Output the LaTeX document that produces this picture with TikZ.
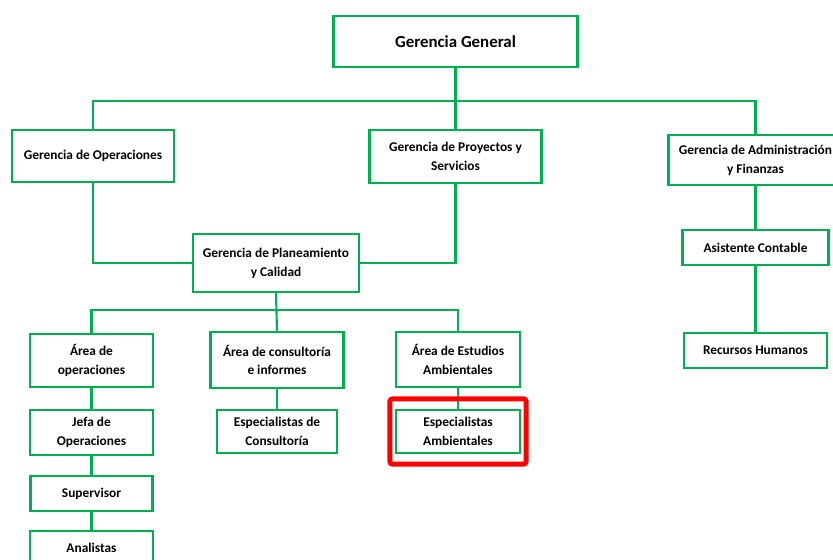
\documentclass[tikz,border=0pt]{standalone}
\usepackage{fontspec}
\setmainfont{Carlito}
\usetikzlibrary{fit}
\definecolor{orggreen}{HTML}{00B050}
\definecolor{markred}{HTML}{FF0000}
\begin{document}
\begin{tikzpicture}[x=0.03cm,y=-0.03cm,
  puesto/.style={draw=orggreen,line width=1.8pt,align=center,inner sep=0pt,
    font=\fontsize{11.4}{16}\selectfont\bfseries},
  linea/.style={draw=orggreen,line width=1.8pt}]
\useasboundingbox (0,0) rectangle (833,560);
\clip (0,0) rectangle (833,560);
% nivel 1
\node[puesto,minimum width=7.32cm,minimum height=1.53cm,font=\fontsize{14.4}{16}\selectfont\bfseries] (GG) at (455.5,41.5) {Gerencia General};
% nivel 2
\node[puesto,minimum width=4.86cm,minimum height=1.56cm] (GO) at (93,156) {Gerencia de Operaciones};
\node[puesto,minimum width=5.16cm,minimum height=1.59cm] (GPS) at (455.5,156.5) {Gerencia de Proyectos y\\Servicios};
\node[puesto,minimum width=5.22cm,minimum height=1.5cm] (GAF) at (755.5,160) {Gerencia de Administración\\y Finanzas};
\node[puesto,minimum width=4.98cm,minimum height=1.74cm] (GPC) at (276,263) {Gerencia de Planeamiento\\y Calidad};
% areas
\node[puesto,minimum width=3.69cm,minimum height=1.59cm] (AO) at (91.5,360.5) {Área de\\operaciones};
\node[puesto,minimum width=3.99cm,minimum height=1.68cm] (AC) at (277,360) {Área de consultoría\\e informes};
\node[puesto,minimum width=3.72cm,minimum height=1.65cm] (AE) at (458,359.5) {Área de Estudios\\Ambientales};
\node[puesto,minimum width=3.69cm,minimum height=1.35cm] (JO) at (91.5,432.5) {Jefa de\\Operaciones};
\node[puesto,minimum width=3.6cm,minimum height=1.29cm] (EC) at (277,431.5) {Especialistas de\\Consultoría};
\node[puesto,minimum width=3.72cm,minimum height=1.29cm] (EA) at (458,431.5) {Especialistas\\Ambientales};
\node[puesto,minimum width=3.66cm,minimum height=1.05cm] (SU) at (91.5,493.5) {Supervisor};
\node[puesto,minimum width=3.69cm,minimum height=0.99cm] (AN) at (91.5,547.5) {Analistas};
\node[puesto,minimum width=4.38cm,minimum height=1.05cm] (ACT) at (755.5,247.5) {Asistente Contable};
\node[puesto,minimum width=4.29cm,minimum height=1.05cm] (RH) at (755.5,350.5) {Recursos Humanos};
% conectores
\coordinate (b1) at (455.5,101);
\coordinate (b2) at (276,310);
\draw[linea] (GG.south) -- (GPS.north);
\draw[linea] (GO.north) |- (b1) -| (GAF.north);
\draw[linea] (GO.south) |- (GPC.west);
\draw[linea] (GPS.south) |- (GPC.east);
\draw[linea] (GPC.south) -- (AC.north);
\draw[linea] (AO.north) |- (b2) -| (AE.north);
\draw[linea] (AO.south) -- (JO.north) (JO.south) -- (SU.north) (SU.south) -- (AN.north);
\draw[linea] (AC.south) -- (EC.north);
\draw[linea] (AE.south) -- (EA.north);
\draw[linea] (GAF.south) -- (ACT.north) (ACT.south) -- (RH.north);
% marca
\node[draw=markred,line width=4.2pt,rounded corners=2pt,inner xsep=0.15cm,inner ysep=0.3cm,fit=(EA)] (marca) {};
\end{tikzpicture}
\end{document}
